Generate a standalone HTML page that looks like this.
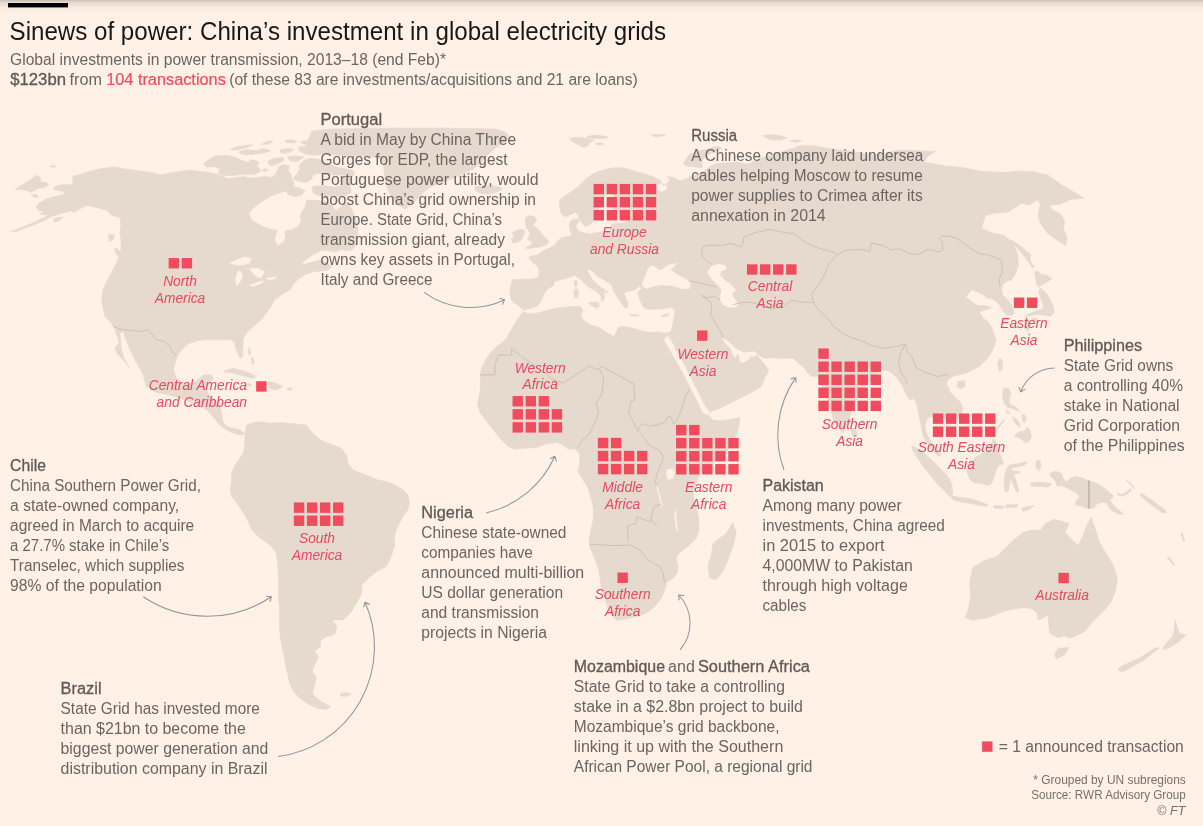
<!DOCTYPE html>
<html><head><meta charset="utf-8"><style>
html,body{margin:0;padding:0;background:#FFF1E5;}
body{width:1203px;height:826px;overflow:hidden;position:relative;font-family:"Liberation Sans",sans-serif;}
svg{position:absolute;left:0;top:0;filter:blur(0.35px);}
.bd{font-size:16px;fill:#6B6561;}
.hd{font-size:16px;fill:#605A56;stroke:#605A56;stroke-width:0.3px;}
.hd0{font-size:16px;fill:#6B6561;}
.b{fill:#605A56;stroke:#605A56;stroke-width:0.3px;}
.lab{font-size:14px;font-style:italic;fill:#E44B60;}
</style></head><body>
<svg width="1203" height="826" viewBox="0 0 1203 826">
<defs>
<linearGradient id="topsh" x1="0" y1="0" x2="0" y2="1">
<stop offset="0" stop-color="#000" stop-opacity="0.21"/><stop offset="0.2" stop-color="#000" stop-opacity="0.1"/><stop offset="0.45" stop-color="#000" stop-opacity="0.05"/><stop offset="0.75" stop-color="#000" stop-opacity="0.015"/><stop offset="1" stop-color="#000" stop-opacity="0"/>
</linearGradient>
<marker id="ah" viewBox="0 0 10 12" refX="9" refY="6" markerWidth="7" markerHeight="8.4" orient="auto" markerUnits="userSpaceOnUse">
<path d="M3.5,1.5 L9,6 L3.5,10.5" fill="none" stroke="#8E969A" stroke-width="1.5" stroke-linecap="round" stroke-linejoin="round"/>
</marker>
</defs>
<rect width="1203" height="826" fill="#FFF1E5"/>
<rect width="1203" height="13" fill="url(#topsh)"/>
<g fill="#E6D9CE" stroke="#E6D9CE" stroke-width="0.6" stroke-linejoin="round">
<path d="M72.2,176.2 81.5,173.9 90.8,170.9 101.2,168.6 115.2,166.9 122.2,168.6 140.0,170.9 154.6,173.0 159.6,174.8 174.6,172.3 190.0,170.0 200.8,171.6 211.6,172.7 220.3,175.4 227.8,178.6 235.4,177.5 244.0,176.5 249.4,178.1 257.0,177.5 265.6,176.5 272.1,177.5 276.4,173.2 278.6,166.7 284.0,164.6 289.4,165.7 288.3,171.1 291.6,175.4 292.7,180.8 296.4,186.4 300.0,199.0 310.0,199.5 320.0,200.0 328.0,201.0 332.0,206.0 336.0,211.0 340.0,207.0 345.0,204.0 350.0,206.0 353.0,212.0 356.0,220.0 358.0,228.0 358.0,237.0 353.3,243.9 345.3,246.6 339.9,250.6 334.6,251.9 329.3,250.6 321.3,250.6 313.3,254.6 304.0,261.3 301.3,265.3 310.6,262.6 320.0,259.9 326.6,262.6 331.9,266.6 328.0,270.0 320.0,271.0 312.0,272.0 306.0,274.0 300.0,278.0 294.0,283.0 290.0,289.9 281.2,294.9 274.5,299.9 271.2,306.5 266.2,313.2 261.2,319.8 252.9,326.5 246.3,333.1 242.9,339.8 242.9,348.1 242.9,356.4 239.6,358.1 236.3,349.8 234.6,343.1 231.3,339.8 223.0,339.8 214.7,339.8 206.4,339.8 198.1,340.6 189.8,343.1 183.1,348.1 178.1,354.7 175.5,362.0 173.5,370.0 176.6,378.3 183.2,383.3 193.2,383.3 199.8,378.3 203.2,375.0 211.5,375.0 213.1,378.3 209.8,384.0 206.5,388.0 208.1,393.3 213.1,398.2 219.8,403.2 221.4,413.2 223.1,421.5 226.4,426.5 233.1,428.2 239.7,429.8 244.7,433.2 244.5,433.9 240.5,435.2 231.2,432.5 220.6,425.9 212.6,416.6 207.3,410.0 196.6,404.6 183.3,399.3 170.0,395.3 156.6,392.6 146.0,386.0 143.3,375.3 139.5,368.0 135.0,360.0 131.0,352.0 128.5,346.0 125.5,339.0 123.3,331.5 119.9,333.1 120.8,341.4 121.6,349.8 123.3,356.4 126.6,363.0 129.9,368.0 128.2,366.4 123.3,359.7 116.6,353.1 114.9,348.1 119.1,343.1 117.4,336.5 114.9,329.8 113.3,326.5 110.0,321.5 105.0,316.5 103.3,308.2 101.6,299.9 102.5,291.6 105.8,283.2 110.0,274.9 114.9,266.6 118.3,258.3 121.0,250.0 121.0,240.0 119.9,231.5 121.0,224.5 119.9,217.5 111.7,215.2 107.1,210.5 98.9,208.2 90.8,205.9 81.5,205.9 72.2,210.5 64.0,212.8 52.4,216.3 40.7,222.2 29.1,226.8 16.3,231.5 9.3,232.0 17.5,229.1 29.1,224.5 41.9,218.7 48.9,215.2 39.6,214.0 44.2,211.7 38.4,210.5 36.1,207.0 39.6,202.4 46.5,198.9 54.7,196.6 62.8,194.8 65.2,191.9 60.5,190.7 53.5,189.6 54.7,186.7 62.8,184.3 69.8,184.9 73.3,182.6Z M244.9,433.3 246.6,425.0 253.3,422.5 263.2,421.7 269.9,423.3 279.9,422.5 289.8,423.3 299.8,424.2 306.5,425.0 309.8,430.0 316.4,436.6 323.1,441.6 333.0,444.9 341.4,448.3 346.4,454.9 348.0,463.2 353.0,469.9 361.3,473.2 369.6,476.5 377.9,479.9 386.3,481.5 394.6,484.8 402.9,489.8 407.9,494.8 409.5,503.1 407.9,509.8 402.9,516.4 399.6,523.1 396.2,529.7 394.6,536.4 394.6,546.4 392.6,552.0 390.5,558.2 386.4,566.5 378.1,570.6 369.9,576.7 361.7,585.0 361.7,593.2 357.6,601.4 351.4,611.7 343.2,620.0 332.9,620.0 330.8,617.9 337.0,626.1 334.9,634.4 326.7,636.4 320.5,640.5 320.5,646.7 314.4,650.8 318.5,657.0 314.4,665.2 312.3,671.4 316.4,677.6 314.4,685.8 312.3,694.0 316.4,698.1 322.6,702.3 330.8,706.4 326.7,709.5 318.5,708.4 308.2,704.3 300.0,698.1 293.8,692.0 289.7,683.7 287.6,673.5 285.6,665.2 284.5,657.0 282.5,648.8 280.4,638.5 279.4,628.2 279.4,617.9 279.4,607.6 278.4,597.3 278.4,587.0 278.4,574.7 277.3,562.3 276.5,553.0 271.5,546.4 264.9,541.4 258.2,536.4 251.6,529.7 248.3,521.4 243.3,513.1 238.3,504.8 231.6,496.5 230.0,489.8 231.6,481.5 231.6,473.2 235.0,464.9 240.0,458.2 243.3,453.3 244.9,444.9Z M523.0,310.0 521.0,308.0 518.0,305.0 514.0,303.0 511.0,299.0 509.5,292.0 511.0,285.0 512.4,279.8 521.2,279.2 531.1,279.2 538.6,277.3 539.3,271.0 537.4,266.1 532.4,262.3 528.7,258.0 531.1,256.1 537.4,254.8 539.9,253.0 544.9,249.9 549.9,248.0 554.8,244.9 558.6,239.9 562.3,237.4 566.1,236.8 569.8,236.1 571.9,233.6 570.0,230.9 569.3,224.9 570.0,221.6 573.3,219.6 577.5,219.0 579.9,220.3 577.9,214.9 575.3,212.3 570.0,214.9 564.6,216.9 561.3,213.6 560.0,208.3 559.3,200.3 562.5,197.4 570.0,192.4 577.4,187.4 584.9,179.9 591.1,174.9 597.4,171.8 603.6,170.0 611.1,168.1 619.8,167.5 627.3,168.7 634.8,171.2 643.5,173.7 652.2,176.2 659.7,179.9 661.3,182.0 663.0,185.0 667.3,183.3 670.0,179.3 667.3,176.7 673.3,177.3 676.7,179.3 680.7,180.7 686.7,178.7 690.0,176.7 697.0,175.0 703.0,172.0 708.0,168.0 713.0,165.0 718.0,163.5 724.9,162.9 736.5,161.8 745.9,164.1 750.5,162.9 759.8,158.3 771.5,154.8 783.1,151.3 794.7,147.8 800.6,145.5 812.2,145.5 834.9,149.3 850.0,151.0 871.5,154.8 885.0,153.0 897.0,150.2 915.0,150.5 935.4,151.5 928.0,156.0 924.0,162.0 944.6,165.8 962.9,167.6 981.1,171.2 995.0,172.0 1007.7,172.3 1017.7,171.1 1032.7,171.8 1047.6,174.8 1061.1,184.5 1074.9,192.6 1084.1,198.3 1070.3,199.5 1061.1,204.1 1049.6,205.2 1051.9,209.8 1061.1,214.4 1064.6,221.3 1063.4,228.3 1066.9,237.5 1065.7,245.5 1056.5,239.8 1047.3,232.9 1040.4,223.6 1038.1,214.4 1040.4,205.2 1038.1,199.5 1028.9,205.2 1022.0,202.9 1008.2,212.1 994.4,213.3 985.2,215.6 981.7,228.3 992.1,232.9 1003.6,235.2 1012.8,242.1 1017.4,253.6 1018.5,265.1 1015.6,273.8 1011.2,280.3 1005.8,281.4 1002.5,285.8 1001.6,289.0 1002.6,294.9 1008.4,300.7 1012.3,306.5 1014.2,312.3 1012.3,315.2 1005.5,314.2 1001.6,308.4 998.7,303.6 992.0,298.7 986.1,297.7 985.0,295.8 977.4,291.9 971.6,290.0 965.8,296.8 971.6,301.6 977.4,305.5 984.2,305.5 992.0,307.4 984.2,310.3 979.4,312.3 983.2,318.1 989.0,323.0 992.9,329.7 991.1,328.2 993.6,333.2 996.1,339.8 994.4,346.5 991.1,353.1 986.1,359.8 979.5,366.4 972.8,369.8 966.2,373.1 959.5,374.7 952.9,376.4 947.9,379.7 946.2,384.7 948.2,386.6 949.5,391.4 953.1,394.9 956.5,398.5 959.8,401.6 963.1,408.2 961.5,414.9 956.5,419.9 949.8,421.5 943.2,418.2 936.5,418.2 929.9,416.6 926.6,419.9 924.9,426.5 926.6,433.2 929.9,439.8 934.9,446.5 939.9,453.1 941.5,454.8 938.2,456.5 933.2,451.5 928.2,444.8 923.2,436.5 921.6,428.2 919.9,419.9 918.2,411.6 916.6,403.3 913.3,398.3 910.2,400.3 907.2,395.8 902.7,386.9 898.2,379.4 892.2,373.4 887.7,370.4 881.8,370.4 878.0,374.0 872.0,380.0 866.0,386.0 860.0,394.0 855.0,403.0 851.8,412.3 848.8,419.8 845.8,427.3 842.8,433.2 838.4,427.3 833.9,419.8 830.9,410.8 828.0,402.0 825.0,394.0 822.0,386.0 819.0,380.0 817.4,376.4 811.4,376.4 806.9,371.9 803.9,367.4 798.0,362.9 793.5,358.4 787.5,358.4 780.0,358.4 776.4,358.1 763.1,358.1 756.4,353.2 758.1,356.5 766.4,366.5 768.9,370.6 764.7,378.1 761.3,386.6 753.0,391.6 743.0,396.6 733.0,401.6 719.8,408.3 710.6,411.6 708.9,415.7 713.1,419.9 719.8,420.7 728.0,419.9 736.4,418.2 739.7,417.4 739.7,419.9 738.9,426.6 736.4,434.9 731.4,446.5 723.1,454.8 713.1,463.1 704.8,469.8 698.1,478.1 694.8,486.4 693.5,496.4 695.5,503.0 697.0,510.0 698.0,515.0 698.8,521.6 698.8,529.9 696.3,538.2 689.7,544.9 681.4,551.5 676.4,556.5 676.4,559.9 678.0,566.5 677.2,573.2 673.0,578.1 666.4,583.1 665.6,588.1 661.4,598.1 654.8,606.4 646.4,613.0 638.1,616.4 626.5,618.9 616.5,620.5 613.2,616.4 608.2,608.1 603.2,594.8 600.7,583.1 599.1,571.5 596.6,563.2 593.2,554.9 589.9,546.6 589.1,539.9 590.8,529.9 593.2,520.0 593.5,510.0 592.5,503.0 591.4,499.8 588.0,488.1 583.0,479.8 578.1,471.5 579.7,463.2 579.7,453.2 574.7,449.0 568.1,449.0 563.1,444.9 556.5,442.4 546.5,444.1 536.5,447.4 524.9,448.2 514.9,449.0 508.2,446.6 499.9,438.2 493.3,429.9 486.6,421.6 480.5,413.3 477.4,404.7 479.9,393.1 480.7,383.1 479.9,375.6 481.6,368.2 484.9,361.5 489.9,353.2 496.5,346.6 503.2,341.6 507.3,337.4 509.0,333.2 513.2,326.6 518.1,318.3 523.1,312.5Z"/>
</g>
<g fill="#FFF1E5" stroke="#FFF1E5" stroke-width="0.4" stroke-linejoin="round">
<path d="M249.4,213.1 253.3,208.8 259.1,203.9 266.8,199.1 272.6,195.7 278.4,193.7 284.3,192.3 290.1,189.4 294.0,186.0 296.0,181.0 300.0,183.0 306.0,184.0 311.0,182.0 313.0,186.0 312.0,190.0 308.0,191.0 305.6,193.3 306.6,199.1 304.6,206.8 301.7,211.7 299.8,215.5 300.7,220.4 297.8,226.2 292.0,229.1 286.2,230.1 284.3,232.0 285.2,235.9 283.3,241.7 278.4,245.1 275.5,241.7 275.5,236.9 277.5,232.0 276.5,229.6 270.7,228.6 263.9,226.2 257.1,222.8 252.3,220.4 250.8,216.5Z M300.0,197.0 312.0,197.0 325.0,198.0 338.0,198.0 350.0,196.0 356.0,194.0 358.0,199.0 352.0,202.0 345.0,203.0 340.0,207.0 336.0,209.0 333.0,206.0 330.0,202.0 320.0,200.0 310.0,199.5 302.0,199.5Z M229.6,263.3 236.3,260.0 244.6,256.7 251.3,258.3 249.6,263.3 242.9,265.0 236.3,265.0Z M239.6,270.0 242.9,274.9 239.6,283.2 236.3,285.7 235.5,279.9 237.1,273.3Z M249.6,268.3 257.9,268.3 264.6,271.6 261.2,278.3 256.2,276.6 252.9,273.3Z M249.6,284.9 259.6,281.6 264.6,280.8 259.6,284.1 252.9,286.6Z M266.2,278.3 276.2,276.6 274.5,279.1 267.9,279.9Z M522.5,311.1 528.5,309.6 535.9,307.4 540.4,302.9 542.7,298.4 544.2,293.9 547.9,289.4 553.9,285.7 554.7,281.9 559.9,280.4 565.9,278.9 571.9,276.7 575.6,275.9 577.0,277.5 580.0,279.3 583.3,282.7 587.3,286.6 592.0,289.3 596.6,292.0 599.3,294.6 601.3,298.0 600.6,301.3 601.3,302.6 604.0,300.0 605.0,296.6 604.0,294.0 606.0,292.6 608.6,293.3 608.0,291.3 604.6,289.3 600.6,286.6 596.6,283.3 592.6,279.3 590.0,274.7 588.0,271.3 587.3,270.0 590.0,270.0 593.3,272.7 596.6,276.0 600.6,278.7 605.3,281.3 610.0,284.0 612.0,286.6 612.6,290.6 615.3,294.6 618.0,298.6 620.6,302.6 623.3,306.6 626.0,309.3 628.0,306.6 628.6,303.3 627.3,300.0 626.0,297.3 624.6,293.3 626.6,292.0 630.0,291.3 634.0,290.6 636.6,289.3 639.3,286.6 641.0,289.0 638.0,291.3 637.3,294.6 638.6,297.3 640.0,301.3 642.0,305.3 643.3,308.0 646.6,309.3 650.0,310.0 657.2,309.6 664.6,308.9 670.6,308.1 673.6,308.9 674.4,311.9 673.6,317.8 672.1,323.8 670.6,331.3 664.6,332.8 657.2,331.3 649.7,332.1 642.2,330.6 634.7,328.3 628.7,326.8 622.7,326.1 618.2,326.8 615.3,332.8 613.8,335.8 607.8,332.8 603.3,329.8 598.8,326.8 592.8,325.3 586.8,322.3 583.1,319.3 581.6,314.9 583.1,310.4 581.6,306.6 577.8,305.9 571.9,305.9 565.9,306.6 558.4,307.4 550.9,308.9 544.9,310.4 537.4,312.6 530.0,313.4 524.0,311.9Z M642.2,283.4 645.2,275.9 648.2,268.5 651.2,265.5 655.7,267.0 658.6,270.0 663.1,269.2 666.1,266.2 672.1,264.0 676.6,263.2 673.6,267.0 670.6,270.0 675.1,273.0 679.6,275.9 687.1,279.7 690.8,284.2 689.3,288.7 682.6,288.7 672.1,285.7 661.6,284.9 652.7,286.4 646.7,288.7 643.7,287.2Z M707.3,272.0 711.9,266.0 718.6,264.0 725.3,265.3 726.6,268.7 721.3,271.3 719.9,275.3 725.3,280.6 730.6,284.6 733.3,287.3 735.9,290.0 733.3,292.6 731.9,295.3 735.9,300.6 737.9,304.6 735.9,307.3 729.3,307.6 722.6,304.6 719.9,299.3 720.6,294.0 721.9,290.0 718.6,286.0 714.6,282.0 710.6,278.0Z M665.0,338.0 668.0,336.0 672.5,343.2 678.3,354.8 684.9,366.5 691.6,379.8 698.2,393.0 704.9,406.4 709.9,412.0 708.0,415.0 703.2,413.0 696.6,399.7 689.9,386.4 683.3,373.1 676.6,361.5 670.0,349.8 665.0,341.5Z M722.7,338.2 728.7,341.8 736.0,349.0 744.5,352.7 753.0,351.5 756.0,352.7 757.0,354.5 755.4,356.3 750.5,356.3 748.1,360.0 743.3,362.4 740.0,361.5 739.5,357.0 738.0,353.5 736.0,355.0 735.5,358.0 733.0,355.0 731.2,349.0 726.3,344.2 722.7,339.4Z M577.0,224.0 580.0,221.0 585.0,227.0 590.0,225.0 594.5,220.3 597.0,214.0 600.0,207.0 603.0,200.0 607.0,194.0 611.0,193.0 614.0,197.0 612.0,204.0 611.0,211.0 614.0,217.0 620.0,219.0 628.0,220.0 624.0,222.5 615.0,223.0 611.0,224.0 609.8,229.6 603.2,230.9 596.5,232.2 589.9,233.6 584.0,232.5 579.9,231.0 577.5,229.0 576.6,226.0Z M657.5,185.0 661.0,183.5 663.5,186.0 666.0,185.0 667.0,189.0 662.0,191.5 658.0,190.5Z M667.0,469.5 672.5,468.5 674.3,472.0 673.0,478.5 668.0,479.6 666.5,475.0Z M656.2,486.5 657.5,486.5 662.6,505.5 661.5,506.5 659.0,496.0Z M674.5,511.0 675.8,511.0 677.6,530.8 676.6,531.0 675.0,520.0Z"/>
</g>
<g fill="#E6D9CE" stroke="#E6D9CE" stroke-width="0.6" stroke-linejoin="round">
<path d="M285.0,188.0 292.0,186.6 300.0,188.0 305.0,191.0 302.0,195.0 295.0,196.6 288.0,195.0Z M299.0,165.8 303.2,160.8 309.9,158.3 318.2,159.1 326.5,162.5 334.8,166.6 343.1,168.3 351.4,170.0 354.8,172.4 352.0,178.0 350.0,186.0 351.4,192.5 346.0,195.0 338.0,196.6 328.0,196.0 318.0,195.5 313.0,193.0 312.4,187.0 318.0,185.7 326.0,186.0 334.0,187.0 340.0,186.0 343.0,180.0 343.1,174.9 334.8,174.9 326.5,174.1 318.2,173.3 313.2,174.9 311.5,179.1 306.6,182.4 299.9,181.6 294.9,179.9 293.3,177.4 297.4,173.3 299.9,169.1Z M15.1,189.5 22.0,184.9 30.0,180.0 37.2,175.0 41.0,178.5 40.0,182.1 45.0,182.0 49.0,184.0 46.0,187.0 38.0,188.5 31.0,192.5 28.0,191.0 22.0,189.5Z M50.0,166.5 54.0,165.0 57.0,166.5 53.0,167.5Z M31.5,195.0 36.0,194.5 38.5,197.0 34.0,197.5Z M53.5,219.0 58.0,217.5 63.0,217.0 58.0,221.0 54.0,222.0Z M312.0,131.0 330.0,129.0 360.0,128.5 400.0,128.0 440.0,128.0 470.0,128.5 495.0,129.0 502.0,131.0 507.0,133.0 509.0,137.0 504.0,143.0 497.0,147.0 492.7,150.0 486.0,157.0 480.8,162.7 472.4,169.5 462.2,174.6 451.2,178.8 442.7,182.2 434.2,185.6 430.0,187.3 423.0,193.0 416.0,200.0 410.0,205.0 405.0,209.0 398.0,205.0 392.0,198.0 388.0,190.0 385.0,180.0 384.0,170.0 383.0,162.0 378.0,158.0 365.0,156.5 350.0,156.0 335.0,155.0 320.0,154.0 310.0,152.0 305.0,147.0 308.0,140.0Z M474.1,187.3 480.8,185.6 489.3,185.2 497.8,186.4 502.9,189.0 496.1,192.4 487.6,194.1 480.8,193.2 475.8,190.7Z M340.0,240.0 348.0,236.0 355.0,238.0 357.0,244.0 352.0,250.0 344.0,251.0 339.0,246.0Z M223.1,371.6 233.1,368.3 246.4,371.6 256.4,376.6 253.0,378.3 243.0,375.8 233.1,373.3Z M268.0,381.6 276.3,383.3 283.0,386.6 276.3,389.9 269.7,389.1Z M245.0,384.0 250.0,383.5 252.0,385.5 247.0,386.5Z M287.5,388.0 292.0,388.0 292.0,390.0 287.5,390.0Z M340.5,693.5 346.0,692.5 351.5,694.5 346.0,696.5 341.0,696.0Z M526.2,216.8 529.9,215.6 533.6,216.2 536.8,219.9 534.3,223.7 532.4,226.2 536.1,227.4 539.9,231.1 542.4,234.9 544.9,237.4 548.0,239.9 548.6,242.4 546.1,244.9 542.4,246.1 537.4,247.4 532.4,248.0 527.4,248.6 525.5,249.9 526.8,246.7 531.1,244.9 532.4,242.4 529.9,240.5 527.4,239.9 528.7,237.4 529.9,233.6 528.0,229.9 526.2,227.4 525.5,223.7 524.9,219.9Z M512.4,232.4 517.4,229.9 522.4,229.3 524.9,231.1 523.7,236.1 521.2,239.9 516.8,242.4 512.4,243.0 511.8,239.3 513.7,236.1Z M574.0,289.3 577.5,289.0 578.7,293.0 577.5,298.0 574.5,297.5 573.8,293.0Z M574.5,280.6 577.0,280.8 577.3,284.0 576.0,287.3 574.3,285.0Z M588.6,302.6 593.0,302.3 598.6,302.0 599.3,306.6 596.6,308.0 590.0,304.6Z M629.5,314.1 634.7,314.6 639.2,315.2 634.7,316.1 630.2,315.6Z M660.9,315.6 666.1,314.1 669.1,313.4 666.9,316.3 663.1,317.1Z M569.3,138.6 574.9,137.5 580.7,137.2 586.5,138.6 594.7,140.4 590.0,142.1 587.7,146.2 584.2,147.3 579.6,145.6 572.6,141.5Z M683.3,164.0 686.7,158.0 690.0,154.0 696.7,151.3 703.3,150.0 712.0,147.5 719.0,146.6 722.0,148.0 715.0,151.0 708.0,155.0 702.0,160.0 702.0,168.0 693.3,166.7 686.7,166.0Z M762.3,135.6 770.0,134.5 780.0,135.5 787.2,138.0 780.0,140.0 770.0,139.5Z M789.7,140.6 796.0,139.8 802.2,141.0 796.0,142.5Z M732.9,522.4 736.2,533.3 732.9,546.6 727.9,559.9 722.9,571.5 716.3,579.8 709.6,578.1 708.0,566.5 711.3,554.9 713.0,543.2 719.6,538.2 726.3,533.3Z M850.3,427.3 854.8,428.8 857.8,434.7 854.8,437.7 851.8,434.7Z M1011.2,240.0 1021.0,246.5 1027.5,252.0 1030.8,254.2 1029.7,258.5 1031.9,264.0 1035.2,267.2 1031.9,267.2 1028.6,261.8 1025.4,257.4 1019.9,250.9 1014.5,244.4Z M1034.6,271.6 1038.0,271.0 1041.4,274.5 1046.0,275.0 1052.0,278.4 1047.1,282.3 1041.4,285.2 1038.4,287.1 1036.5,283.2 1035.5,277.4Z M1040.4,288.0 1045.2,291.9 1050.1,298.7 1052.9,305.5 1054.4,312.3 1051.0,316.2 1044.2,315.2 1037.5,314.2 1031.6,315.2 1026.8,317.1 1024.9,321.0 1025.5,317.0 1026.8,315.2 1033.6,311.8 1040.4,309.8 1043.5,307.5 1042.5,303.0 1040.5,298.0 1038.5,292.0Z M1024.4,319.9 1029.4,319.9 1031.0,324.8 1027.7,331.5 1024.4,328.2Z M1032.0,318.5 1038.0,318.0 1037.0,321.0 1032.0,321.0Z M999.4,358.1 1002.8,360.6 1001.9,369.8 999.4,371.4 997.4,364.8Z M957.9,381.4 964.5,380.6 965.3,386.4 960.4,388.9 957.0,386.4Z M1003.6,388.0 1009.2,388.8 1010.8,394.4 1009.2,400.0 1010.0,404.0 1014.0,406.4 1017.2,408.0 1019.6,411.2 1016.4,410.4 1012.4,408.8 1007.6,407.2 1004.4,404.0 1002.8,399.2 1002.8,392.8Z M1014.0,435.9 1018.8,431.9 1024.3,431.1 1027.5,427.1 1029.9,429.5 1031.5,435.9 1029.9,440.7 1025.1,443.1 1021.9,439.1 1018.0,437.5Z M1003.6,419.4 1004.3,420.4 997.0,430.0 996.0,429.0Z M911.6,445.6 919.9,449.8 929.9,458.1 938.2,466.4 946.5,474.7 951.5,483.0 953.1,493.0 949.8,496.4 943.2,489.7 936.5,483.0 929.9,474.7 923.2,466.4 916.6,456.5 912.4,449.8Z M950.9,495.5 959.9,497.5 969.8,498.5 979.7,501.5 987.7,504.5 986.7,506.5 974.8,504.5 964.8,502.5 954.9,500.5 951.4,498.5Z M993.6,438.9 996.0,442.0 998.0,448.0 999.6,453.8 1002.0,459.0 1003.6,463.8 999.6,464.8 997.0,468.0 995.6,471.7 993.6,477.7 991.6,483.6 987.7,485.6 981.7,483.6 973.8,482.6 969.8,479.7 966.8,471.7 969.8,464.8 973.8,458.8 979.7,454.8 985.7,451.8 989.7,445.9Z M1009.5,464.8 1015.0,464.0 1020.0,463.5 1025.0,461.8 1027.4,462.8 1024.0,465.5 1018.0,466.8 1012.0,468.2 1011.0,470.5 1015.0,471.0 1020.5,471.5 1020.0,473.0 1015.5,473.5 1014.0,475.0 1016.0,481.0 1018.5,489.0 1018.5,492.6 1016.0,491.5 1013.0,484.0 1011.0,478.0 1009.5,483.0 1008.5,490.0 1006.5,492.6 1004.5,490.0 1004.0,482.0 1005.0,474.0 1007.0,468.0Z M1036.0,461.0 1040.0,460.6 1041.0,466.0 1039.0,471.3 1036.0,468.0Z M993.6,505.5 1003.6,506.0 1003.0,508.5 994.0,508.0Z M1049.2,473.7 1055.6,471.0 1062.0,473.7 1062.9,478.3 1066.6,481.9 1070.2,478.3 1075.7,476.5 1081.2,477.4 1088.5,480.6 1095.8,482.9 1102.2,486.5 1107.7,491.1 1113.2,495.6 1112.3,498.4 1109.5,499.3 1112.3,503.9 1116.8,508.4 1121.4,512.1 1123.2,514.8 1119.6,513.9 1114.1,512.1 1109.5,508.4 1106.8,503.0 1101.3,502.0 1095.8,504.8 1094.0,508.4 1088.5,508.4 1084.8,507.5 1080.3,505.7 1074.8,504.8 1076.6,500.2 1079.4,496.6 1076.6,492.9 1071.1,490.2 1066.6,487.4 1061.1,485.6 1057.4,486.5 1055.6,481.9 1054.7,480.1 1051.0,476.5Z M972.9,567.4 983.8,560.8 997.0,556.4 1005.7,547.7 1012.3,541.1 1023.3,532.3 1032.0,530.1 1040.8,530.1 1045.2,523.6 1054.0,519.2 1062.7,521.4 1069.3,523.6 1064.9,532.3 1071.5,538.9 1078.1,545.5 1082.5,536.7 1086.8,525.7 1091.2,517.0 1095.6,530.1 1100.0,543.3 1106.6,554.2 1113.1,565.2 1117.5,578.3 1115.3,591.5 1110.9,602.5 1106.1,608.3 1099.4,615.0 1091.1,623.3 1084.5,631.6 1077.8,634.9 1069.5,638.2 1064.5,635.7 1057.9,637.4 1049.6,633.2 1048.7,623.3 1047.9,615.0 1042.9,618.3 1037.9,620.0 1037.1,613.3 1032.9,609.1 1024.6,607.5 1013.0,609.1 1003.0,611.6 988.2,617.8 972.9,620.0 965.2,617.8 968.5,609.0 970.7,595.9 969.6,582.7Z M1057.9,648.2 1069.5,647.4 1064.5,654.9 1056.2,659.0 1054.5,654.9Z M1117.7,669.8 1122.7,672.3 1132.7,666.5 1144.3,659.9 1152.6,653.2 1159.3,648.2 1156.8,647.4 1149.3,651.5 1139.3,658.2 1127.7,663.2 1121.0,666.5Z M1175.1,620.0 1177.6,628.3 1179.2,633.2 1185.9,634.9 1180.9,639.9 1174.2,644.9 1164.3,649.9 1162.6,648.2 1167.6,641.6 1172.6,636.6 1174.2,629.9Z M1167.0,557.0 1169.0,557.0 1175.0,564.5 1173.5,565.5Z M203.0,163.5 214.9,155.9 225.7,155.4 235.4,157.0 240.8,160.3 248.4,162.4 250.5,159.7 254.8,160.3 259.2,162.4 257.0,165.7 261.3,171.1 254.8,174.3 244.0,174.3 233.2,175.4 222.4,175.4 218.1,173.2 220.3,168.9 213.8,166.7 206.2,166.7Z M230.0,149.5 238.6,146.2 252.7,144.6 250.5,146.2 241.9,148.9 233.2,150.0Z M238.6,152.2 246.2,149.5 254.8,150.5 263.5,148.4 267.8,149.5 271.0,150.5 265.6,152.7 257.0,153.8 247.3,154.9 240.8,153.8Z M261.3,144.0 267.8,141.3 273.2,140.8 270.0,143.5 263.5,144.6Z M267.8,161.3 274.3,158.1 282.9,157.6 284.0,160.3 278.6,163.5 272.1,165.7 268.9,164.6Z M279.7,150.0 287.3,148.4 293.7,148.9 291.6,151.6 285.1,153.2 280.8,152.7Z M285.1,140.3 292.7,139.7 297.0,141.9 291.6,143.0 286.2,142.4Z M300.2,141.3 306.7,140.8 308.9,144.0 302.4,144.0Z M298.1,147.3 306.7,146.2 314.3,147.3 320.0,148.4 320.0,154.9 312.1,154.9 304.5,153.8 299.1,150.5Z M312.1,136.5 320.0,134.3 330.0,132.0 340.0,131.5 340.0,140.0 320.0,141.9 314.3,140.8Z M287.3,157.0 295.9,155.9 303.5,157.0 298.1,161.3 290.5,161.3Z M262.0,169.5 266.0,168.5 268.0,170.5 264.0,172.0Z M1031.0,483.0 1040.0,482.0 1052.0,484.0 1048.0,487.0 1038.0,486.5 1031.0,486.0Z M1116.8,492.9 1121.4,494.7 1126.9,492.0 1130.5,488.3 1131.5,490.2 1127.8,493.8 1122.3,496.1 1117.8,495.2Z M1141.0,493.0 1146.0,496.0 1152.0,500.0 1158.0,505.0 1164.0,509.0 1167.0,513.0 1163.0,513.0 1157.0,509.0 1150.0,504.0 1144.0,499.0 1140.0,495.0Z M1180.8,533.0 1182.5,533.5 1184.8,541.0 1183.0,541.0Z M248.0,349.0 250.0,348.5 251.0,354.0 249.0,355.0Z M251.5,358.0 253.5,358.0 254.0,364.0 252.0,364.0Z M586.5,136.3 598.2,135.1 608.7,136.9 605.2,138.6 595.9,138.6 587.7,138.0Z M595.9,143.3 600.5,142.7 604.0,143.9 600.5,145.0 596.4,144.4Z M650.6,135.1 656.4,134.5 665.7,135.1 661.0,136.3 655.2,136.9Z M108.0,234.8 114.7,234.0 113.0,239.8 109.7,241.4Z M114.7,248.0 121.3,251.4 126.3,256.4 123.0,258.8 116.4,254.7Z M71.5,211.5 77.0,208.0 83.1,204.8 84.8,205.7 79.0,209.5 74.8,212.3Z M1126.9,480.1 1131.5,483.8 1134.7,488.3 1133.3,488.3 1130.1,484.2 1126.4,481.0Z M1005.5,504.8 1017.5,504.5 1017.0,507.3 1006.0,507.5Z M1021.4,508.5 1028.0,506.5 1034.3,505.5 1030.0,509.0 1023.0,511.4Z M1006.0,410.4 1009.2,412.0 1009.2,414.3 1006.8,412.7Z M1012.4,416.7 1016.4,419.1 1018.8,421.5 1020.4,427.9 1016.4,424.7 1014.0,421.5Z M1022.0,414.3 1025.1,415.1 1026.7,418.3 1024.3,423.1 1022.0,419.9Z"/>
</g>
<path d="M113.3,326.5 123.3,329.8 139.9,331.5 148.2,329.8 156.5,339.8 164.8,341.4 169.8,346.4 173.1,353.1 176.0,355.0 M480.0,374.9 494.9,374.9 494.9,365.0 498.3,355.0 511.6,355.0 511.6,349.1 528.0,361.0 545.0,373.0 553.0,380.0 563.0,383.0 573.0,377.0 588.7,366.2 597.4,369.4 602.4,366.9 M599.9,369.4 603.7,378.7 602.4,391.2 599.9,397.4 596.2,403.6 598.7,412.4 594.9,422.3 588.7,434.8 582.5,439.8 577.5,447.3 M602.4,366.9 617.4,375.0 633.6,383.7 634.8,399.9 631.1,401.1 628.6,412.4 632.3,419.9 637.3,429.8 644.8,438.6 649.8,445.8 656.8,449.3 661.5,452.8 663.2,458.6 661.5,463.3 659.1,469.1 656.8,474.9 655.6,480.7 656.2,486.5 M661.5,504.0 654.5,506.3 652.2,512.2 651.0,519.1 654.5,523.8 656.8,526.1 M651.0,519.1 649.8,521.5 642.8,519.1 637.0,516.8 635.9,523.8 627.7,525.5 627.7,536.0 628.2,541.6 M637.3,429.8 642.3,423.6 649.8,426.1 657.3,424.8 664.8,422.3 668.5,416.1 671.0,417.4 673.5,423.6 677.2,419.9 682.2,407.4 686.0,394.9 689.7,389.9 M589.1,544.1 601.6,544.9 614.9,545.7 629.8,544.9 639.8,549.9 646.4,558.2 653.1,563.2 659.8,566.5 663.1,573.2 664.7,583.1 M712.0,264.6 706.6,260.7 702.6,256.7 701.3,250.0 704.0,246.0 712.0,245.0 720.0,245.8 730.9,243.6 741.8,246.9 744.0,237.1 754.9,232.7 770.1,229.4 785.4,232.7 794.1,233.8 807.2,243.6 818.1,248.0 833.3,252.3 837.7,254.5 M837.7,254.5 829.0,263.2 824.6,274.1 820.3,282.8 811.5,293.7 813.7,302.4 802.8,302.4 791.9,300.3 783.2,306.8 772.3,309.0 763.6,306.8 752.7,302.4 741.8,302.4 733.1,304.6 M837.7,254.5 846.4,250.1 860.0,249.4 870.0,251.4 871.0,242.9 883.0,245.4 890.9,249.9 899.9,248.9 909.9,253.9 917.9,254.4 927.8,249.4 939.8,251.9 942.8,249.9 942.3,241.9 938.8,238.9 941.8,235.9 949.8,236.4 957.8,238.9 969.7,247.9 980.0,253.9 987.5,254.7 996.7,258.2 1001.3,260.5 1002.4,272.0 999.0,278.9 1000.0,286.0 M813.7,302.4 818.1,309.0 829.0,319.9 833.3,326.4 842.1,333.0 850.8,337.3 863.8,341.7 872.6,346.0 883.5,348.2 898.7,346.0 905.3,343.9 907.4,352.6 911.8,356.9 916.2,367.8 924.9,372.2 938.0,376.5 948.9,374.4 M905.3,343.9 900.9,352.6 898.7,361.3 900.9,372.2 905.3,378.7 907.2,384.0 M720.0,300.0 714.6,296.0 706.6,298.0 701.3,295.3 709.3,300.6 712.0,306.0 710.6,314.0 716.0,324.6 721.3,332.6 722.6,336.6 M690.0,281.0 700.0,283.0 708.0,285.0 716.5,286.6" fill="none" stroke="#C9BCB0" stroke-width="0.85" stroke-linejoin="round"/>
<path d="M1089,480.5 L1089,508.5" stroke="#A39A92" stroke-width="1" fill="none"/>
<g fill="#EF4D5E">
<rect x="168.65" y="258.05" width="10.4" height="10.4"/>
<rect x="181.71" y="258.05" width="10.4" height="10.4"/>
<rect x="256.15" y="381.25" width="10.4" height="10.4"/>
<rect x="293.85" y="502.45" width="10.4" height="10.4"/>
<rect x="306.91" y="502.45" width="10.4" height="10.4"/>
<rect x="319.97" y="502.45" width="10.4" height="10.4"/>
<rect x="333.03" y="502.45" width="10.4" height="10.4"/>
<rect x="293.85" y="515.51" width="10.4" height="10.4"/>
<rect x="306.91" y="515.51" width="10.4" height="10.4"/>
<rect x="319.97" y="515.51" width="10.4" height="10.4"/>
<rect x="333.03" y="515.51" width="10.4" height="10.4"/>
<rect x="593.60" y="183.91" width="10.4" height="10.4"/>
<rect x="606.66" y="183.91" width="10.4" height="10.4"/>
<rect x="619.72" y="183.91" width="10.4" height="10.4"/>
<rect x="632.78" y="183.91" width="10.4" height="10.4"/>
<rect x="645.84" y="183.91" width="10.4" height="10.4"/>
<rect x="593.60" y="196.97" width="10.4" height="10.4"/>
<rect x="606.66" y="196.97" width="10.4" height="10.4"/>
<rect x="619.72" y="196.97" width="10.4" height="10.4"/>
<rect x="632.78" y="196.97" width="10.4" height="10.4"/>
<rect x="645.84" y="196.97" width="10.4" height="10.4"/>
<rect x="593.60" y="210.03" width="10.4" height="10.4"/>
<rect x="606.66" y="210.03" width="10.4" height="10.4"/>
<rect x="619.72" y="210.03" width="10.4" height="10.4"/>
<rect x="632.78" y="210.03" width="10.4" height="10.4"/>
<rect x="645.84" y="210.03" width="10.4" height="10.4"/>
<rect x="746.95" y="264.30" width="10.4" height="10.4"/>
<rect x="760.01" y="264.30" width="10.4" height="10.4"/>
<rect x="773.07" y="264.30" width="10.4" height="10.4"/>
<rect x="786.13" y="264.30" width="10.4" height="10.4"/>
<rect x="1013.85" y="297.55" width="10.4" height="10.4"/>
<rect x="1026.91" y="297.55" width="10.4" height="10.4"/>
<rect x="697.05" y="330.45" width="10.4" height="10.4"/>
<rect x="818.35" y="348.45" width="10.4" height="10.4"/>
<rect x="818.35" y="361.51" width="10.4" height="10.4"/>
<rect x="831.41" y="361.51" width="10.4" height="10.4"/>
<rect x="844.47" y="361.51" width="10.4" height="10.4"/>
<rect x="857.53" y="361.51" width="10.4" height="10.4"/>
<rect x="870.59" y="361.51" width="10.4" height="10.4"/>
<rect x="818.35" y="374.57" width="10.4" height="10.4"/>
<rect x="831.41" y="374.57" width="10.4" height="10.4"/>
<rect x="844.47" y="374.57" width="10.4" height="10.4"/>
<rect x="857.53" y="374.57" width="10.4" height="10.4"/>
<rect x="870.59" y="374.57" width="10.4" height="10.4"/>
<rect x="818.35" y="387.63" width="10.4" height="10.4"/>
<rect x="831.41" y="387.63" width="10.4" height="10.4"/>
<rect x="844.47" y="387.63" width="10.4" height="10.4"/>
<rect x="857.53" y="387.63" width="10.4" height="10.4"/>
<rect x="870.59" y="387.63" width="10.4" height="10.4"/>
<rect x="818.35" y="400.69" width="10.4" height="10.4"/>
<rect x="831.41" y="400.69" width="10.4" height="10.4"/>
<rect x="844.47" y="400.69" width="10.4" height="10.4"/>
<rect x="857.53" y="400.69" width="10.4" height="10.4"/>
<rect x="870.59" y="400.69" width="10.4" height="10.4"/>
<rect x="932.85" y="413.45" width="10.4" height="10.4"/>
<rect x="945.91" y="413.45" width="10.4" height="10.4"/>
<rect x="958.97" y="413.45" width="10.4" height="10.4"/>
<rect x="972.03" y="413.45" width="10.4" height="10.4"/>
<rect x="985.09" y="413.45" width="10.4" height="10.4"/>
<rect x="932.85" y="426.51" width="10.4" height="10.4"/>
<rect x="945.91" y="426.51" width="10.4" height="10.4"/>
<rect x="958.97" y="426.51" width="10.4" height="10.4"/>
<rect x="972.03" y="426.51" width="10.4" height="10.4"/>
<rect x="985.09" y="426.51" width="10.4" height="10.4"/>
<rect x="512.55" y="396.05" width="10.4" height="10.4"/>
<rect x="525.61" y="396.05" width="10.4" height="10.4"/>
<rect x="538.67" y="396.05" width="10.4" height="10.4"/>
<rect x="512.55" y="409.11" width="10.4" height="10.4"/>
<rect x="525.61" y="409.11" width="10.4" height="10.4"/>
<rect x="538.67" y="409.11" width="10.4" height="10.4"/>
<rect x="551.73" y="409.11" width="10.4" height="10.4"/>
<rect x="512.55" y="422.17" width="10.4" height="10.4"/>
<rect x="525.61" y="422.17" width="10.4" height="10.4"/>
<rect x="538.67" y="422.17" width="10.4" height="10.4"/>
<rect x="551.73" y="422.17" width="10.4" height="10.4"/>
<rect x="597.85" y="437.80" width="10.4" height="10.4"/>
<rect x="610.91" y="437.80" width="10.4" height="10.4"/>
<rect x="597.85" y="450.86" width="10.4" height="10.4"/>
<rect x="610.91" y="450.86" width="10.4" height="10.4"/>
<rect x="623.97" y="450.86" width="10.4" height="10.4"/>
<rect x="637.03" y="450.86" width="10.4" height="10.4"/>
<rect x="597.85" y="463.92" width="10.4" height="10.4"/>
<rect x="610.91" y="463.92" width="10.4" height="10.4"/>
<rect x="623.97" y="463.92" width="10.4" height="10.4"/>
<rect x="637.03" y="463.92" width="10.4" height="10.4"/>
<rect x="676.05" y="424.90" width="10.4" height="10.4"/>
<rect x="689.11" y="424.90" width="10.4" height="10.4"/>
<rect x="676.05" y="437.96" width="10.4" height="10.4"/>
<rect x="689.11" y="437.96" width="10.4" height="10.4"/>
<rect x="702.17" y="437.96" width="10.4" height="10.4"/>
<rect x="715.23" y="437.96" width="10.4" height="10.4"/>
<rect x="728.29" y="437.96" width="10.4" height="10.4"/>
<rect x="676.05" y="451.02" width="10.4" height="10.4"/>
<rect x="689.11" y="451.02" width="10.4" height="10.4"/>
<rect x="702.17" y="451.02" width="10.4" height="10.4"/>
<rect x="715.23" y="451.02" width="10.4" height="10.4"/>
<rect x="728.29" y="451.02" width="10.4" height="10.4"/>
<rect x="676.05" y="464.08" width="10.4" height="10.4"/>
<rect x="689.11" y="464.08" width="10.4" height="10.4"/>
<rect x="702.17" y="464.08" width="10.4" height="10.4"/>
<rect x="715.23" y="464.08" width="10.4" height="10.4"/>
<rect x="728.29" y="464.08" width="10.4" height="10.4"/>
<rect x="617.45" y="572.55" width="10.4" height="10.4"/>
<rect x="1058.45" y="572.85" width="10.4" height="10.4"/>
<rect x="982.1" y="741.4" width="10.4" height="10.4"/>
</g>
<g class="lab">
<text x="180" y="286.0" text-anchor="middle" textLength="33.7" lengthAdjust="spacingAndGlyphs">North</text>
<text x="180" y="302.9" text-anchor="middle" textLength="50.6" lengthAdjust="spacingAndGlyphs">America</text>
<text x="247" y="390.0" text-anchor="end" textLength="98.3" lengthAdjust="spacingAndGlyphs">Central America</text>
<text x="247" y="406.9" text-anchor="end" textLength="90.4" lengthAdjust="spacingAndGlyphs">and Caribbean</text>
<text x="317" y="543.3" text-anchor="middle" textLength="36.0" lengthAdjust="spacingAndGlyphs">South</text>
<text x="317" y="560.2" text-anchor="middle" textLength="50.6" lengthAdjust="spacingAndGlyphs">America</text>
<text x="624.5" y="236.8" text-anchor="middle" textLength="44.4" lengthAdjust="spacingAndGlyphs">Europe</text>
<text x="624.5" y="253.7" text-anchor="middle" textLength="69.0" lengthAdjust="spacingAndGlyphs">and Russia</text>
<text x="770" y="291.3" text-anchor="middle" textLength="44.4" lengthAdjust="spacingAndGlyphs">Central</text>
<text x="770" y="308.2" text-anchor="middle" textLength="26.8" lengthAdjust="spacingAndGlyphs">Asia</text>
<text x="1024" y="327.8" text-anchor="middle" textLength="47.5" lengthAdjust="spacingAndGlyphs">Eastern</text>
<text x="1024" y="344.7" text-anchor="middle" textLength="26.8" lengthAdjust="spacingAndGlyphs">Asia</text>
<text x="703" y="359.0" text-anchor="middle" textLength="51.1" lengthAdjust="spacingAndGlyphs">Western</text>
<text x="703" y="375.9" text-anchor="middle" textLength="26.8" lengthAdjust="spacingAndGlyphs">Asia</text>
<text x="849.6" y="429.2" text-anchor="middle" textLength="55.9" lengthAdjust="spacingAndGlyphs">Southern</text>
<text x="849.6" y="446.1" text-anchor="middle" textLength="26.8" lengthAdjust="spacingAndGlyphs">Asia</text>
<text x="961.4" y="452.3" text-anchor="middle" textLength="87.4" lengthAdjust="spacingAndGlyphs">South Eastern</text>
<text x="961.4" y="469.2" text-anchor="middle" textLength="26.8" lengthAdjust="spacingAndGlyphs">Asia</text>
<text x="540.2" y="372.5" text-anchor="middle" textLength="51.1" lengthAdjust="spacingAndGlyphs">Western</text>
<text x="540.2" y="389.4" text-anchor="middle" textLength="35.2" lengthAdjust="spacingAndGlyphs">Africa</text>
<text x="622.6" y="491.8" text-anchor="middle" textLength="40.6" lengthAdjust="spacingAndGlyphs">Middle</text>
<text x="622.6" y="508.7" text-anchor="middle" textLength="35.2" lengthAdjust="spacingAndGlyphs">Africa</text>
<text x="708.7" y="491.8" text-anchor="middle" textLength="47.5" lengthAdjust="spacingAndGlyphs">Eastern</text>
<text x="708.7" y="508.7" text-anchor="middle" textLength="35.2" lengthAdjust="spacingAndGlyphs">Africa</text>
<text x="622.7" y="599.4" text-anchor="middle" textLength="55.9" lengthAdjust="spacingAndGlyphs">Southern</text>
<text x="622.7" y="616.3" text-anchor="middle" textLength="35.2" lengthAdjust="spacingAndGlyphs">Africa</text>
<text x="1062" y="599.9" text-anchor="middle" textLength="53.6" lengthAdjust="spacingAndGlyphs">Australia</text>
</g>
<g fill="none" stroke="#8E969A" stroke-width="1.05">
<path d="M424.2,292.3 A78.3,78.3 0 0 0 504.6,299.7" marker-end="url(#ah)"/>
<path d="M486.1,512.9 A99.8,99.8 0 0 0 554.9,456.3" marker-end="url(#ah)"/>
<path d="M784,470 A101,101 0 0 1 795.7,377.6" marker-end="url(#ah)"/>
<path d="M1054.6,367.9 A36.2,36.2 0 0 0 1020.7,391.9" marker-end="url(#ah)"/>
<path d="M143.3,596.8 A114.9,114.9 0 0 0 271.4,596.8" marker-end="url(#ah)"/>
<path d="M278.2,756.6 A110.7,110.7 0 0 0 365.1,602.2" marker-end="url(#ah)"/>
<path d="M680.1,649.8 A40.7,40.7 0 0 0 678.7,595" marker-end="url(#ah)"/>
</g>
<rect x="8" y="3" width="60" height="4.4" fill="#000"/>
<text x="9.6" y="39.6" style="font-size:25.6px;fill:#1A1817;" textLength="656.5" lengthAdjust="spacingAndGlyphs">Sinews of power: China’s investment in global electricity grids</text>
<text x="10" y="65.2" style="font-size:16px;fill:#6B6561;" textLength="436" lengthAdjust="spacingAndGlyphs">Global investments in power transmission, 2013–18 (end Feb)*</text>
<g style="font-size:16px;fill:#6B6561;">
<text class="b" x="10.2" y="85" textLength="55.8" lengthAdjust="spacingAndGlyphs">$123bn</text>
<text x="69.6" y="85" textLength="32.4" lengthAdjust="spacingAndGlyphs">from</text>
<text x="106.2" y="85" textLength="119.6" lengthAdjust="spacingAndGlyphs" style="fill:#EF4D5E;stroke:#EF4D5E;stroke-width:0.2px">104 transactions</text>
<text x="229.2" y="85" textLength="408.6" lengthAdjust="spacingAndGlyphs">(of these 83 are investments/acquisitions and 21 are loans)</text>
</g>
<text class="hd" x="320.5" y="124.5" textLength="61.6" lengthAdjust="spacingAndGlyphs">Portugal</text>
<text class="bd" x="320.5" y="144.5" textLength="195.6" lengthAdjust="spacingAndGlyphs">A bid in May by China Three</text>
<text class="bd" x="320.5" y="164.5" textLength="186.9" lengthAdjust="spacingAndGlyphs">Gorges for EDP, the largest</text>
<text class="bd" x="320.5" y="184.5" textLength="218.0" lengthAdjust="spacingAndGlyphs">Portuguese power utility, would</text>
<text class="bd" x="320.5" y="204.5" textLength="215.5" lengthAdjust="spacingAndGlyphs">boost China’s grid ownership in</text>
<text class="bd" x="320.5" y="224.5" textLength="181.5" lengthAdjust="spacingAndGlyphs">Europe. State Grid, China’s</text>
<text class="bd" x="320.5" y="244.5" textLength="184.4" lengthAdjust="spacingAndGlyphs">transmission giant, already</text>
<text class="bd" x="320.5" y="264.5" textLength="194.4" lengthAdjust="spacingAndGlyphs">owns key assets in Portugal,</text>
<text class="bd" x="320.5" y="284.5" textLength="112.0" lengthAdjust="spacingAndGlyphs">Italy and Greece</text>
<text class="hd" x="691.2" y="140.5" textLength="45.9" lengthAdjust="spacingAndGlyphs">Russia</text>
<text class="bd" x="691.2" y="160.5" textLength="232.2" lengthAdjust="spacingAndGlyphs">A Chinese company laid undersea</text>
<text class="bd" x="691.2" y="180.5" textLength="231.5" lengthAdjust="spacingAndGlyphs">cables helping Moscow to resume</text>
<text class="bd" x="691.2" y="200.5" textLength="231.5" lengthAdjust="spacingAndGlyphs">power supplies to Crimea after its</text>
<text class="bd" x="691.2" y="220.5" textLength="134.5" lengthAdjust="spacingAndGlyphs">annexation in 2014</text>
<text class="hd" x="1063.7" y="351" textLength="78.3" lengthAdjust="spacingAndGlyphs">Philippines</text>
<text class="bd" x="1063.7" y="371.0" textLength="109.6" lengthAdjust="spacingAndGlyphs">State Grid owns</text>
<text class="bd" x="1063.7" y="391.0" textLength="119.3" lengthAdjust="spacingAndGlyphs">a controlling 40%</text>
<text class="bd" x="1063.7" y="411.0" textLength="115.9" lengthAdjust="spacingAndGlyphs">stake in National</text>
<text class="bd" x="1063.7" y="431.0" textLength="116.4" lengthAdjust="spacingAndGlyphs">Grid Corporation</text>
<text class="bd" x="1063.7" y="451.0" textLength="121.0" lengthAdjust="spacingAndGlyphs">of the Philippines</text>
<text class="hd" x="10.1" y="471" textLength="35.8" lengthAdjust="spacingAndGlyphs">Chile</text>
<text class="bd" x="10.1" y="491.0" textLength="190.8" lengthAdjust="spacingAndGlyphs">China Southern Power Grid,</text>
<text class="bd" x="10.1" y="511.0" textLength="169.1" lengthAdjust="spacingAndGlyphs">a state-owned company,</text>
<text class="bd" x="10.1" y="531.0" textLength="184.1" lengthAdjust="spacingAndGlyphs">agreed in March to acquire</text>
<text class="bd" x="10.1" y="551.0" textLength="159.2" lengthAdjust="spacingAndGlyphs">a 27.7% stake in Chile’s</text>
<text class="bd" x="10.1" y="571.0" textLength="174.4" lengthAdjust="spacingAndGlyphs">Transelec, which supplies</text>
<text class="bd" x="10.1" y="591.0" textLength="151.5" lengthAdjust="spacingAndGlyphs">98% of the population</text>
<text class="hd" x="421.3" y="518" textLength="51.8" lengthAdjust="spacingAndGlyphs">Nigeria</text>
<text class="bd" x="421.3" y="538.0" textLength="145.1" lengthAdjust="spacingAndGlyphs">Chinese state-owned</text>
<text class="bd" x="421.3" y="558.0" textLength="111.6" lengthAdjust="spacingAndGlyphs">companies have</text>
<text class="bd" x="421.3" y="578.0" textLength="162.9" lengthAdjust="spacingAndGlyphs">announced multi-billion</text>
<text class="bd" x="421.3" y="598.0" textLength="141.8" lengthAdjust="spacingAndGlyphs">US dollar generation</text>
<text class="bd" x="421.3" y="618.0" textLength="117.7" lengthAdjust="spacingAndGlyphs">and transmission</text>
<text class="bd" x="421.3" y="638.0" textLength="125.6" lengthAdjust="spacingAndGlyphs">projects in Nigeria</text>
<text class="hd" x="762.5" y="491" textLength="61.2" lengthAdjust="spacingAndGlyphs">Pakistan</text>
<text class="bd" x="762.5" y="511.0" textLength="139.3" lengthAdjust="spacingAndGlyphs">Among many power</text>
<text class="bd" x="762.5" y="531.0" textLength="182.4" lengthAdjust="spacingAndGlyphs">investments, China agreed</text>
<text class="bd" x="762.5" y="551.0" textLength="122.0" lengthAdjust="spacingAndGlyphs">in 2015 to export</text>
<text class="bd" x="762.5" y="571.0" textLength="150.3" lengthAdjust="spacingAndGlyphs">4,000MW to Pakistan</text>
<text class="bd" x="762.5" y="591.0" textLength="145.3" lengthAdjust="spacingAndGlyphs">through high voltage</text>
<text class="bd" x="762.5" y="611.0" textLength="43.9" lengthAdjust="spacingAndGlyphs">cables</text>
<text class="hd" x="60.6" y="694" textLength="41.0" lengthAdjust="spacingAndGlyphs">Brazil</text>
<text class="bd" x="60.6" y="714.0" textLength="199.3" lengthAdjust="spacingAndGlyphs">State Grid has invested more</text>
<text class="bd" x="60.6" y="734.0" textLength="185.2" lengthAdjust="spacingAndGlyphs">than $21bn to become the</text>
<text class="bd" x="60.6" y="754.0" textLength="207.8" lengthAdjust="spacingAndGlyphs">biggest power generation and</text>
<text class="bd" x="60.6" y="774.0" textLength="206.9" lengthAdjust="spacingAndGlyphs">distribution company in Brazil</text>
<text class="hd" x="573.8" y="671.5" textLength="91.2" lengthAdjust="spacingAndGlyphs">Mozambique</text>
<text class="hd0" x="668.1" y="671.5" textLength="26.7" lengthAdjust="spacingAndGlyphs">and</text>
<text class="hd" x="697.9" y="671.5" textLength="112.1" lengthAdjust="spacingAndGlyphs">Southern Africa</text>
<text class="bd" x="573.8" y="691.5" textLength="211.2" lengthAdjust="spacingAndGlyphs">State Grid to take a controlling</text>
<text class="bd" x="573.8" y="711.5" textLength="229.0" lengthAdjust="spacingAndGlyphs">stake in a $2.8bn project to build</text>
<text class="bd" x="573.8" y="731.5" textLength="205.7" lengthAdjust="spacingAndGlyphs">Mozambique’s grid backbone,</text>
<text class="bd" x="573.8" y="751.5" textLength="209.5" lengthAdjust="spacingAndGlyphs">linking it up with the Southern</text>
<text class="bd" x="573.8" y="771.5" textLength="238.7" lengthAdjust="spacingAndGlyphs">African Power Pool, a regional grid</text>
<text x="998.8" y="751.6" style="font-size:16px;fill:#6B6561;" textLength="185" lengthAdjust="spacingAndGlyphs">= 1 announced transaction</text>
<g style="font-size:12.6px;fill:#76706C;" text-anchor="end">
<text x="1185.8" y="783.5" textLength="152.5" lengthAdjust="spacingAndGlyphs">* Grouped by UN subregions</text>
<text x="1185.8" y="799.3" textLength="154.5" lengthAdjust="spacingAndGlyphs">Source: RWR Advisory Group</text>
<text x="1185.5" y="814.5">© <tspan font-style="italic">FT</tspan></text>
</g>
</svg>
</body></html>
